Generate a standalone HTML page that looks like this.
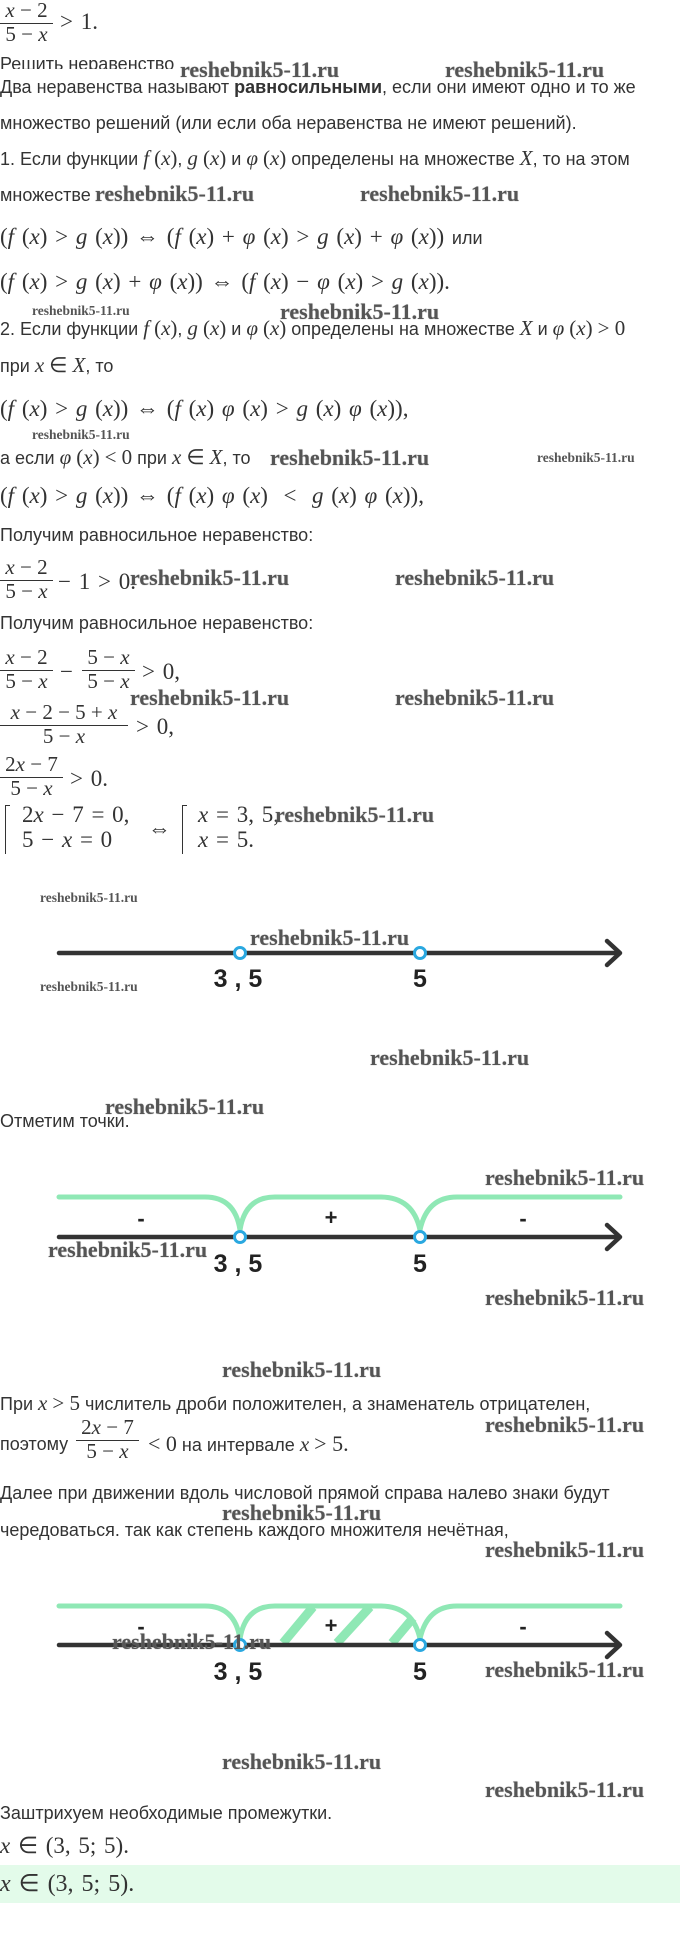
<!DOCTYPE html>
<html><head><meta charset="utf-8"><style>
body{margin:0;width:680px;height:1936px;position:relative;background:#fff;overflow:hidden;font-family:"Liberation Sans",sans-serif;color:#333;}
.t{position:absolute;font-size:18px;line-height:22px;white-space:nowrap;}
.m{font-family:"Liberation Serif",serif;font-size:23px;color:#333;word-spacing:2px;}
i{font-family:"Liberation Serif",serif;font-style:italic;font-size:21px;}
.m i{font-size:23px;}
.r{font-family:"Liberation Serif",serif;font-size:21px;}
.w{position:absolute;font-family:"Liberation Serif",serif;font-weight:bold;color:#555;font-size:22px;line-height:24px;white-space:nowrap;text-shadow:0 0 1px #999;}
.ws{position:absolute;font-family:"Liberation Serif",serif;font-weight:bold;color:#555;font-size:13.5px;line-height:16px;white-space:nowrap;}
.f{position:absolute;font-family:"Liberation Serif",serif;font-size:21px;line-height:20px;text-align:center;white-space:nowrap;}
.f i{font-size:21px;}
.f .n{display:block;padding:0 2px;}
.f .d{display:block;border-top:1.3px solid #333;padding:0 2px;margin-top:3px;}
svg{position:absolute;left:0;}
</style></head><body>

<div class="f" style="left:0;top:0;width:53px"><span class="n"><i>x</i> − 2</span><span class="d">5 − <i>x</i></span></div>
<div class="t m" style="left:60px;top:11px">&gt; 1.</div>

<div class="t" style="left:0;top:53px;height:16px;overflow:hidden">Решить неравенство</div>
<div class="w" style="left:180px;top:58px">reshebnik5-11.ru</div>
<div class="w" style="left:445px;top:58px">reshebnik5-11.ru</div>
<div class="t" style="left:0;top:76px">Два неравенства называют <b>равносильными</b>, если они имеют одно и то же</div>
<div class="t" style="left:0;top:112px">множество решений (или если оба неравенства не имеют решений).</div>
<div class="t" style="left:0;top:147px">1. Если функции <i>f</i> <span class="r">(</span><i>x</i><span class="r">)</span>, <i>g</i> <span class="r">(</span><i>x</i><span class="r">)</span> и <i>φ</i> <span class="r">(</span><i>x</i><span class="r">)</span> определены на множестве <i>X</i>, то на этом</div>
<div class="t" style="left:0;top:184px">множестве</div>
<div class="w" style="left:95px;top:182px">reshebnik5-11.ru</div>
<div class="w" style="left:360px;top:182px">reshebnik5-11.ru</div>
<div class="t m" style="left:0;top:226px">(<i>f</i> (<i>x</i>) &gt; <i>g</i> (<i>x</i>)) ⇔ (<i>f</i> (<i>x</i>) + <i>φ</i> (<i>x</i>) &gt; <i>g</i> (<i>x</i>) + <i>φ</i> (<i>x</i>)) <span style="font-family:'Liberation Sans';font-size:18px">или</span></div>
<div class="t m" style="left:0;top:271px">(<i>f</i> (<i>x</i>) &gt; <i>g</i> (<i>x</i>) + <i>φ</i> (<i>x</i>)) ⇔ (<i>f</i> (<i>x</i>) − <i>φ</i> (<i>x</i>) &gt; <i>g</i> (<i>x</i>)).</div>
<div class="ws" style="left:32px;top:303px">reshebnik5-11.ru</div>
<div class="w" style="left:280px;top:300px">reshebnik5-11.ru</div>
<div class="t" style="left:0;top:317px">2. Если функции <i>f</i> <span class="r">(</span><i>x</i><span class="r">)</span>, <i>g</i> <span class="r">(</span><i>x</i><span class="r">)</span> и <i>φ</i> <span class="r">(</span><i>x</i><span class="r">)</span> определены на множестве <i>X</i> и <i>φ</i> <span class="r">(</span><i>x</i><span class="r">)</span> <span class="r">&gt; 0</span></div>
<div class="t" style="left:0;top:354px">при <i>x</i> <span class="r">∈</span> <i>X</i>, то</div>
<div class="t m" style="left:0;top:398px">(<i>f</i> (<i>x</i>) &gt; <i>g</i> (<i>x</i>)) ⇔ (<i>f</i> (<i>x</i>) <i>φ</i> (<i>x</i>) &gt; <i>g</i> (<i>x</i>) <i>φ</i> (<i>x</i>)),</div>
<div class="ws" style="left:32px;top:427px">reshebnik5-11.ru</div>
<div class="t" style="left:0;top:446px">а если <i>φ</i> <span class="r">(</span><i>x</i><span class="r">)</span> <span class="r">&lt; 0</span> при <i>x</i> <span class="r">∈</span> <i>X</i>, то</div>
<div class="w" style="left:270px;top:446px">reshebnik5-11.ru</div>
<div class="ws" style="left:537px;top:450px">reshebnik5-11.ru</div>
<div class="t m" style="left:0;top:485px">(<i>f</i> (<i>x</i>) &gt; <i>g</i> (<i>x</i>)) ⇔ (<i>f</i> (<i>x</i>) <i>φ</i> (<i>x</i>) &nbsp;&lt;&nbsp; <i>g</i> (<i>x</i>) <i>φ</i> (<i>x</i>)),</div>

<div class="t" style="left:0;top:524px">Получим равносильное неравенство:</div>
<div class="f" style="left:0;top:557px;width:53px"><span class="n"><i>x</i> − 2</span><span class="d">5 − <i>x</i></span></div>
<div class="t m" style="left:58px;top:571px">− 1 &gt; 0.</div>
<div class="w" style="left:130px;top:566px">reshebnik5-11.ru</div>
<div class="w" style="left:395px;top:566px">reshebnik5-11.ru</div>
<div class="t" style="left:0;top:612px">Получим равносильное неравенство:</div>
<div class="f" style="left:0;top:647px;width:53px"><span class="n"><i>x</i> − 2</span><span class="d">5 − <i>x</i></span></div>
<div class="t m" style="left:60px;top:661px">−</div>
<div class="f" style="left:82px;top:647px;width:53px"><span class="n">5 − <i>x</i></span><span class="d">5 − <i>x</i></span></div>
<div class="t m" style="left:142px;top:661px">&gt; 0,</div>
<div class="w" style="left:130px;top:686px">reshebnik5-11.ru</div>
<div class="w" style="left:395px;top:686px">reshebnik5-11.ru</div>
<div class="f" style="left:0;top:702px;width:128px"><span class="n"><i>x</i> − 2 − 5 + <i>x</i></span><span class="d">5 − <i>x</i></span></div>
<div class="t m" style="left:136px;top:716px">&gt; 0,</div>
<div class="f" style="left:0;top:754px;width:63px"><span class="n">2<i>x</i> − 7</span><span class="d">5 − <i>x</i></span></div>
<div class="t m" style="left:70px;top:768px">&gt; 0.</div>
<div style="position:absolute;left:5px;top:805px;width:4px;height:48px;border-left:1.3px solid #333;border-top:1.3px solid #333"></div>
<div class="t m" style="left:22px;top:804px">2<i>x</i> − 7 = 0,</div>
<div class="t m" style="left:22px;top:829px">5 − <i>x</i> = 0</div>
<div class="t m" style="left:148px;top:818px">⇔</div>
<div style="position:absolute;left:182px;top:805px;width:4px;height:48px;border-left:1.3px solid #333;border-top:1.3px solid #333"></div>
<div class="t m" style="left:198px;top:804px"><i>x</i> = 3, 5,</div>
<div class="t m" style="left:198px;top:829px"><i>x</i> = 5.</div>
<div class="w" style="left:275px;top:803px">reshebnik5-11.ru</div>

<div class="ws" style="left:40px;top:890px">reshebnik5-11.ru</div>
<svg width="680" height="1936" style="top:0">
 <g fill="none" stroke-linecap="round">
  <line x1="59" y1="953" x2="618" y2="953" stroke="#333" stroke-width="4.5"/>
  <polyline points="607,941 620,953 607,965" stroke="#333" stroke-width="4.5" stroke-linejoin="round"/>
  <circle cx="240" cy="953" r="5.5" stroke="#2aa8e0" stroke-width="3" fill="#fff"/>
  <circle cx="420" cy="953" r="5.5" stroke="#2aa8e0" stroke-width="3" fill="#fff"/>

  <path d="M59,1197 H205 Q235,1197 240,1230 Q245,1197 275,1197 H380 Q413,1197 420,1230 Q427,1197 457,1197 H620" stroke="#8fe8b5" stroke-width="5"/>
  <line x1="59" y1="1237" x2="618" y2="1237" stroke="#333" stroke-width="4.5"/>
  <polyline points="607,1225 620,1237 607,1249" stroke="#333" stroke-width="4.5" stroke-linejoin="round"/>
  <circle cx="240" cy="1237" r="5.5" stroke="#2aa8e0" stroke-width="3" fill="#fff"/>
  <circle cx="420" cy="1237" r="5.5" stroke="#2aa8e0" stroke-width="3" fill="#fff"/>

  <g stroke="#8fe8b5" stroke-width="9" stroke-linecap="butt">
   <line x1="283" y1="1643" x2="313" y2="1607"/>
   <line x1="337" y1="1643" x2="370" y2="1607"/>
   <line x1="392" y1="1643" x2="413" y2="1618"/>
  </g>
  <path d="M59,1606 H205 Q235,1606 240,1639 Q245,1606 275,1606 H380 Q413,1606 420,1639 Q427,1606 457,1606 H620" stroke="#8fe8b5" stroke-width="5"/>
  <line x1="59" y1="1645" x2="618" y2="1645" stroke="#333" stroke-width="4.5"/>
  <polyline points="607,1633 620,1645 607,1657" stroke="#333" stroke-width="4.5" stroke-linejoin="round"/>
  <circle cx="240" cy="1645" r="5.5" stroke="#2aa8e0" stroke-width="3" fill="#fff"/>
  <circle cx="420" cy="1645" r="5.5" stroke="#2aa8e0" stroke-width="3" fill="#fff"/>
 </g>
 <g font-family="Liberation Sans" font-weight="bold" fill="#222" font-size="25" text-anchor="middle">
  <text x="238" y="987">3 , 5</text><text x="420" y="987">5</text>
  <text x="238" y="1272">3 , 5</text><text x="420" y="1272">5</text>
  <text x="238" y="1680">3 , 5</text><text x="420" y="1680">5</text>
 </g>
 <g font-family="Liberation Sans" font-weight="bold" fill="#222" font-size="22" text-anchor="middle">
  <text x="141" y="1226">-</text><text x="331" y="1225">+</text><text x="523" y="1226">-</text>
  <text x="141" y="1634">-</text><text x="331" y="1633">+</text><text x="523" y="1634">-</text>
 </g>
</svg>
<div class="w" style="left:250px;top:926px">reshebnik5-11.ru</div>
<div class="ws" style="left:40px;top:979px">reshebnik5-11.ru</div>

<div class="w" style="left:370px;top:1046px">reshebnik5-11.ru</div>
<div class="w" style="left:105px;top:1095px">reshebnik5-11.ru</div>
<div class="t" style="left:0;top:1110px">Отметим точки.</div>
<div class="w" style="left:485px;top:1166px">reshebnik5-11.ru</div>
<div class="w" style="left:48px;top:1238px">reshebnik5-11.ru</div>
<div class="w" style="left:485px;top:1286px">reshebnik5-11.ru</div>
<div class="w" style="left:222px;top:1358px">reshebnik5-11.ru</div>
<div class="t" style="left:0;top:1392px">При <i>x</i> <span class="r">&gt; 5</span> числитель дроби положителен, а знаменатель отрицателен,</div>
<div class="w" style="left:485px;top:1413px">reshebnik5-11.ru</div>
<div class="t" style="left:0;top:1433px">поэтому</div>
<div class="f" style="left:76px;top:1417px;width:63px"><span class="n">2<i>x</i> − 7</span><span class="d">5 − <i>x</i></span></div>
<div class="t" style="left:148px;top:1433px"><span class="r" style="font-size:22px">&lt; 0</span> на интервале <i>x</i> <span class="r" style="font-size:22px">&gt; 5.</span></div>
<div class="t" style="left:0;top:1482px">Далее при движении вдоль числовой прямой справа налево знаки будут</div>
<div class="w" style="left:222px;top:1501px">reshebnik5-11.ru</div>
<div class="t" style="left:0;top:1519px">чередоваться. так как степень каждого множителя нечётная,</div>
<div class="w" style="left:485px;top:1538px">reshebnik5-11.ru</div>
<div class="w" style="left:112px;top:1630px">reshebnik5-11.ru</div>
<div class="w" style="left:485px;top:1658px">reshebnik5-11.ru</div>
<div class="w" style="left:222px;top:1750px">reshebnik5-11.ru</div>
<div class="w" style="left:485px;top:1778px">reshebnik5-11.ru</div>
<div class="t" style="left:0;top:1802px">Заштрихуем необходимые промежутки.</div>
<div class="t m" style="left:0;top:1835px"><i>x</i> ∈ (3, 5; 5).</div>
<div style="position:absolute;left:0;top:1865px;width:680px;height:38px;background:#e3fbea"></div>
<div class="t m" style="left:0;top:1873px;font-size:24px"><i style="font-size:24px">x</i> ∈ (3, 5; 5).</div>
</body></html>
